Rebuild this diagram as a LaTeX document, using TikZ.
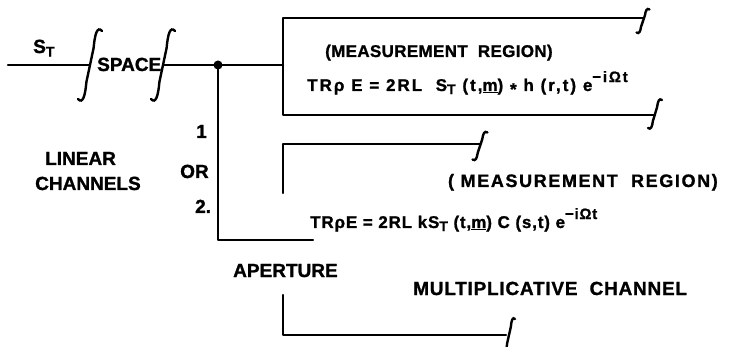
\documentclass[tikz,border=0pt]{standalone}
\usepackage{fontspec}
\setmainfont{Liberation Sans}[BoldFeatures={FakeBold=1.2}]
\newcommand{\lowT}{\raisebox{-0.35ex}{\fontsize{14}{14}\selectfont T}}
\newcommand{\hiexp}[1]{\raisebox{1.0ex}{\fontsize{15}{15}\selectfont #1}}
\newcommand{\conv}{\raisebox{-0.45ex}{*}}
\begin{document}
\begin{tikzpicture}[x=1pt,y=-1pt,
  wire/.style={line width=2.4pt, line cap=round, line join=round},
  lbl/.style={font=\bfseries\fontsize{19}{21}\selectfont, inner sep=0pt},
  eqn/.style={font=\bfseries\fontsize{17}{19}\selectfont, inner sep=0pt},
  brk/.pic={\draw[line width=2.4pt, line cap=round]
     (-0.5,0.5) .. controls (-0.3,0.58) and (-0.2,0.45) .. (-0.15,0.25)
     -- (0.15,-0.25) .. controls (0.2,-0.45) and (0.3,-0.58) .. (0.5,-0.5);}
]
\useasboundingbox (0,0) rectangle (730,347);

% coordinates
\coordinate (in) at (8,65);
\coordinate (m1) at (90,65);
\coordinate (m2) at (163,65);
\coordinate (j) at (218,65);
\coordinate (boxW) at (283,65);
\coordinate (boxNW) at (283,18);
\coordinate (boxSW) at (283,115);
\coordinate (boxNE) at (643,18);
\coordinate (boxSE) at (655,115);
\coordinate (b2NW) at (283,144);
\coordinate (b2S) at (283,193);
\coordinate (b2E) at (480,144);
\coordinate (jS) at (218,240);
\coordinate (jE) at (313,240);
\coordinate (b3N) at (283,295);
\coordinate (b3SW) at (283,335);
\coordinate (b3E) at (506,335);

% break marks
\pic[xscale=24,yscale=68] at (m1) {brk};
\pic[xscale=24,yscale=68] at (m2) {brk};
\pic[xscale=13,yscale=23] at (643,21) {brk};
\pic[xscale=14,yscale=28] at (655,114) {brk};
\pic[xscale=15,yscale=27] at (480,146) {brk};
\pic[xscale=12,yscale=32] at (509,335) {brk};

% wires
\draw[wire] (in) -- (m1);
\draw[wire] (m2) -- (j) -- (boxW);
\draw[wire] (boxNE) -- (boxNW) -- (boxSW) -- (boxSE);
\draw[wire] (b2E) -- (b2NW) -- (b2S);
\draw[wire] (j) -- (jS) -- (jE);
\draw[wire] (b3N) -- (b3SW) -- (b3E);
\fill (j) circle (4.5);

% labels
\node[lbl, anchor=base west] (st) at (33,53) {S\lowT};
\node[lbl, anchor=base west] (space) at (97,71) {SPACE};
\node[lbl, anchor=base west, font=\bfseries\fontsize{17}{19}\selectfont\addfontfeature{LetterSpace=2}] (mr1) at (325,57) {(MEASUREMENT\ \ REGION)};
\node[eqn, anchor=base west, font=\bfseries\fontsize{17}{19}\selectfont\addfontfeature{LetterSpace=12}] (f1) at (307,91)
  {TRρ E = 2RL\ \ S\lowT\ (t,\underline{m}) \conv\ h (r,t) e\hiexp{−iΩt}};
\node[lbl, anchor=base east, font=\bfseries\fontsize{18}{20}\selectfont\addfontfeature{LetterSpace=9}] (mr2) at (718,187) {( MEASUREMENT\ \ REGION)};
\node[eqn, anchor=base west, font=\bfseries\fontsize{17}{19}\selectfont\addfontfeature{LetterSpace=5}] (f2) at (310,228)
  {TRρE = 2RL kS\lowT\ (t,\underline{m}) C (s,t) e\hiexp{−iΩt}};
\node[lbl, anchor=base west] (lin) at (45,165) {LINEAR};
\node[lbl, anchor=base west] (chan) at (35,190) {CHANNELS};
\node[lbl, anchor=base west] (one) at (196,138) {1};
\node[lbl, anchor=base west] (or) at (180,178) {OR};
\node[lbl, anchor=base west] (two) at (195,213) {2.};
\node[lbl, anchor=base west] (ap) at (233,277) {APERTURE};
\node[lbl, anchor=base west, font=\bfseries\fontsize{19}{21}\selectfont\addfontfeature{LetterSpace=4}] (mult) at (413,295) {MULTIPLICATIVE\ \ CHANNEL};
\end{tikzpicture}
\end{document}
